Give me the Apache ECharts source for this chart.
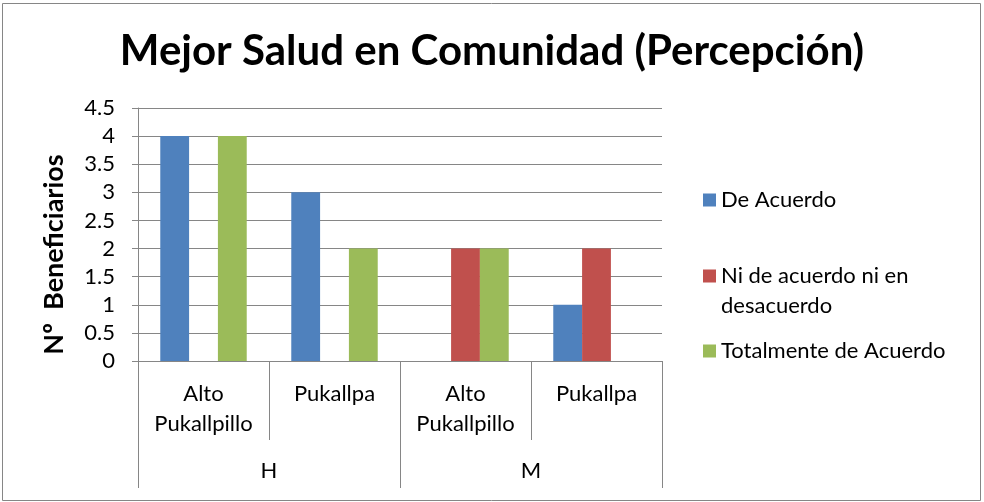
<!DOCTYPE html>
<html>
<head>
<meta charset="utf-8">
<script src="https://cdn.jsdelivr.net/npm/echarts@6/dist/echarts.min.js"></script>
<style>
  html, body { margin: 0; padding: 0; background: #fff; }
  #main { width: 984px; height: 502px; }
</style>
</head>
<body>
<div id="main"></div>
<script>
// datos
var subCategorias = ['Alto\nPukallpillo', 'Pukallpa', 'Alto\nPukallpillo', 'Pukallpa'];
var grupos = ['H', 'M'];
var deAcuerdo = [4, 3, 0, 1];
var niNi = [0, 0, 2, 2];
var totalmente = [4, 2, 2, 0];
var nombres = ['De Acuerdo', 'Ni de acuerdo ni en desacuerdo', 'Totalmente de Acuerdo'];
var colores = ['#4F81BD', '#C0504D', '#9BBB59'];

var gris = '#868686';
var fuente = 'Lato';

var myChart = echarts.init(document.getElementById('main'));

var option = {
  backgroundColor: '#fff',
  textStyle: { fontFamily: fuente },
  color: colores,
  title: {
    text: 'Mejor Salud en Comunidad (Percepción)',
    left: 'center',
    top: 25,
    textStyle: { fontFamily: fuente, fontSize: 42, fontWeight: 'bold', color: '#000' }
  },
  graphic: [{
    type: 'rect',
    shape: { x: 2.5, y: 3.5, width: 978, height: 497 },
    style: { fill: 'none', stroke: gris, lineWidth: 1 },
    silent: true
  }],
  legend: [
    {
      data: [nombres[0]],
      orient: 'vertical',
      left: 698, top: 180,
      itemWidth: 13, itemHeight: 13, itemGap: 0,
      icon: 'rect',
      textStyle: { fontFamily: fuente, fontSize: 22, color: '#000', lineHeight: 30 }
    },
    {
      // cuadro alineado con la primera linea del texto
      data: [nombres[1]],
      orient: 'vertical',
      left: 698, top: 256,
      itemWidth: 13, itemHeight: 43, itemGap: 0,
      icon: 'path://M0,0L13,0L13,13L0,13Z M0,43L0.01,43L0,43Z',
      formatter: function () { return 'Ni de acuerdo ni en\ndesacuerdo'; },
      textStyle: { fontFamily: fuente, fontSize: 22, color: '#000', lineHeight: 30 }
    },
    {
      data: [nombres[2]],
      orient: 'vertical',
      left: 698, top: 331,
      itemWidth: 13, itemHeight: 13, itemGap: 0,
      icon: 'rect',
      textStyle: { fontFamily: fuente, fontSize: 22, color: '#000', lineHeight: 30 }
    }
  ],
  grid: { left: 138, right: 322, top: 108, bottom: 141 },
  xAxis: [
    {
      type: 'category',
      data: subCategorias,
      position: 'bottom',
      axisLine: { lineStyle: { color: gris } },
      axisTick: { show: true, length: 79, interval: 0, lineStyle: { color: gris } },
      axisLabel: { interval: 0, margin: 18, fontFamily: fuente, fontSize: 22, lineHeight: 30, color: '#000' }
    },
    {
      type: 'category',
      data: grupos,
      position: 'bottom',
      offset: 79,
      axisLine: { show: false },
      axisTick: { show: true, length: 48, interval: 0, lineStyle: { color: gris } },
      axisLabel: { interval: 0, margin: 20, fontFamily: fuente, fontSize: 22, color: '#000' }
    }
  ],
  yAxis: {
    type: 'value',
    min: 0,
    max: 4.5,
    interval: 0.5,
    name: 'Nº  Beneficiarios',
    nameLocation: 'middle',
    nameGap: 70,
    nameTextStyle: { fontFamily: fuente, fontSize: 27, fontWeight: 'bold', color: '#000', padding: [0, 40, 0, 0] },
    axisLine: { show: true, lineStyle: { color: gris } },
    axisTick: { show: true, length: 6, lineStyle: { color: gris } },
    splitLine: { show: true, lineStyle: { color: gris } },
    axisLabel: { margin: 23, fontFamily: fuente, fontSize: 22, color: '#000' }
  },
  series: [
    { name: nombres[0], type: 'bar', data: deAcuerdo, barGap: 0, barCategoryGap: '34%', itemStyle: { color: colores[0] } },
    { name: nombres[1], type: 'bar', data: niNi, barGap: 0, barCategoryGap: '34%', itemStyle: { color: colores[1] } },
    { name: nombres[2], type: 'bar', data: totalmente, barGap: 0, barCategoryGap: '34%', itemStyle: { color: colores[2] } }
  ]
};

myChart.setOption(option);
window.onresize = myChart.resize;
</script>
</body>
</html>
